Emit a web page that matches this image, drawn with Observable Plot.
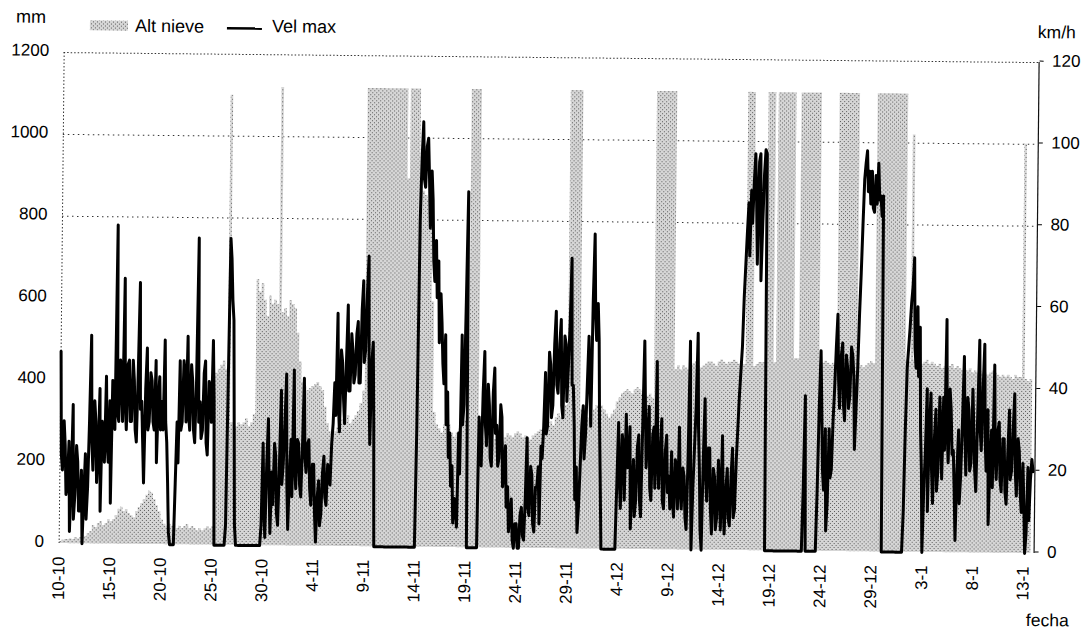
<!DOCTYPE html>
<html>
<head>
<meta charset="utf-8">
<script src="https://cdn.jsdelivr.net/npm/d3@7"></script>
<script src="https://cdn.jsdelivr.net/npm/@observablehq/plot@0.6"></script>
<style>
html,body{margin:0;padding:0;background:#fff;}
#wrap{position:relative;width:1085px;height:629px;overflow:hidden;background:#fff;}
#rot{position:absolute;left:0;top:0;width:1085px;height:629px;transform:rotate(0.588deg);transform-origin:542.5px 314.5px;}
</style>
</head>
<body>
<div id="wrap"><div id="rot"><div id="chart"></div></div></div>
<script>
// ---- Data ----
// Vel max (km/h): 8 readings per day (every 3 h), one row per day from 10-10
const windKmh = [
 47,22,18,30,24,12,15,25,
 3,15,34,6,12,24,20,8,
 8,18,0,12,22,6,14,30,
 51,25,18,35,30,15,22,38,
 8,30,28,20,41,25,20,35,
 10,40,35,28,78,32,30,45,
 42,30,65,35,28,44,45,30,
 30,45,40,28,25,42,64,33,
 35,25,15,38,48,28,30,42,
 40,30,28,45,20,35,41,28,
 35,28,50,30,25,15,3,0,
 0,0,0,15,30,20,45,28,
 30,45,42,30,51,32,28,44,
 40,28,25,40,75,30,35,26,
 28,42,45,25,22,40,38,30,
 50,35,0,0,0,0,0,0,
 0,0,0,5,40,75,70,60,
 55,30,5,0,0,0,0,0,
 0,0,0,0,0,0,0,0,
 0,0,0,0,0,0,0,5,
 25,10,2,20,31,15,3,18,
 10,25,22,8,5,20,38,15,
 20,30,42,15,4,18,26,12,
 43,20,14,26,25,15,12,24,
 41,22,18,25,26,14,10,20,
 20,8,1,12,16,5,8,18,
 22,12,10,20,18,15,25,30,
 40,32,57,35,28,48,45,36,
 30,45,59,38,38,52,48,40,
 42,52,55,40,40,58,65,45,
 48,62,71,40,25,45,50,30,
 0,0,0,0,0,0,0,0,
 0,0,0,0,0,0,0,0,
 0,0,0,0,0,0,0,0,
 0,0,0,0,0,0,0,0,
 0,30,80,95,104,90,88,98,
 100,90,78,92,85,70,65,75,
 61,70,50,62,55,45,40,52,
 30,38,22,28,15,20,6,12,
 10,5,28,18,52,30,35,60,
 87,0,0,0,0,0,0,0,
 0,0,32,25,20,38,48,30,
 25,40,35,22,20,38,44,28,
 30,20,22,35,32,15,18,25,
 10,15,4,8,12,2,0,6,
 6,0,0,8,10,3,2,12,
 27,10,8,20,18,6,4,15,
 15,20,6,25,22,30,43,28,
 30,48,45,32,35,50,58,40,
 38,50,56,35,32,52,50,36,
 45,55,71,40,40,30,12,20,
 4,10,20,30,35,22,28,40,
 52,40,30,60,77,58,51,60,
 51,30,16,0,0,0,0,0,
 0,0,0,0,0,0,0,15,
 31,18,10,28,25,12,33,20,
 20,30,5,15,22,8,12,25,
 28,12,8,30,51,35,20,28,
 35,15,12,28,30,15,46,22,
 15,25,32,12,10,24,28,14,
 18,10,24,12,8,22,20,10,
 30,15,10,20,18,8,5,22,
 51,20,0,15,25,35,53,30,
 20,5,0,22,37,18,12,25,
 25,10,4,20,18,5,8,22,
 15,5,28,12,4,15,20,8,
 6,18,25,8,10,22,30,38,
 44,50,62,70,78,85,72,88,
 80,90,97,85,70,95,97,66,
 80,92,98,97,0,0,0,0,
 0,0,0,0,0,0,0,0,
 0,0,0,0,0,0,0,0,
 0,0,0,0,0,0,0,0,
 0,0,15,38,0,0,0,0,
 0,0,0,0,0,15,35,49,
 35,20,15,30,5,12,30,18,
 20,32,40,50,58,42,35,48,
 51,36,32,48,45,35,38,50,
 48,43,25,35,45,58,68,80,
 91,95,98,88,93,85,93,84,
 83,92,85,95,86,87,82,87,
 0,0,0,0,0,0,0,0,
 0,0,0,0,0,0,0,0,
 0,10,30,45,50,55,61,65,
 72,50,45,60,43,55,30,20,
 0,15,25,40,10,30,39,20,
 12,28,35,15,20,38,30,18,
 38,25,57,30,22,40,35,24,
 25,15,3,20,30,12,19,32,
 48,30,19,38,35,20,22,40,
 30,20,15,35,52,30,25,40,
 51,28,20,35,7,22,30,16,
 46,25,18,30,32,18,15,28,
 28,15,12,25,35,18,20,30,
 39,20,14,28,25,15,10,22,
 12,0,5,21,8,18,23,20
];
// Alt nieve (mm): 4 readings per day (every 6 h), from 10-10
const snowMm = [
 5,8,10,10,  12,10,15,12,  15,20,18,25,  30,45,40,50,  55,45,50,60,
 55,60,70,85,  90,80,85,75,  70,65,80,90,  100,110,120,130,  125,110,95,80,
 60,50,45,50,  45,50,40,45,  40,45,50,40,  45,40,35,40,  35,40,45,40,
 45,420,430,440,  450,430,1100,300,  300,290,300,295,  300,310,290,300,  320,650,620,640,
 600,560,610,590,  600,590,1120,570,  580,560,600,590,  580,520,450,400,  390,380,385,390,
 395,400,390,380,  340,300,280,285,  280,290,300,310,  310,320,300,310,  320,330,350,380,
 1120,1120,1120,1120,  1120,1120,1120,1120,  1120,1120,1120,1120,  1120,1120,1120,1120,  900,1120,1120,1120,
 1120,880,870,860,  850,800,600,330,  300,290,280,300,  290,300,280,270,  280,290,300,310,
 300,1120,1120,1120,  1120,280,270,260,  270,260,255,265,  260,250,260,270,  280,275,270,280,
 285,280,270,275,  270,265,275,280,  285,290,280,290,  300,310,300,320,  330,320,340,350,
 1120,1120,1120,1120,  1120,340,330,320,  320,330,340,350,  360,350,340,330,  320,330,340,360,
 370,380,385,390,  385,380,390,395,  390,380,370,375,  380,370,1120,1120,  1120,1120,1120,1120,
 1120,1120,440,450,  440,450,445,440,  450,455,460,450,  445,450,455,460,  460,455,450,460,
 465,460,455,460,  460,465,460,455,  460,455,1120,1120,  1120,450,455,460,  460,460,1120,1120,
 1120,460,1120,1120,  1120,1120,1120,1120,  1120,470,470,1120,  1120,1120,1120,1120,  1120,1120,1120,460,
 460,465,460,455,  460,455,1120,1120,  1120,1120,1120,1120,  1120,1120,460,455,  450,455,460,465,
 460,1120,1120,1120,  1120,1120,1120,1120,  1120,1120,1120,1120,  1120,470,465,1020,  470,465,470,460,
 465,470,460,465,  460,455,460,450,  455,450,455,460,  450,455,450,445,  450,445,450,440,
 445,440,445,440,  440,435,440,445,  440,435,430,435,  430,435,430,425,  435,430,430,1000,
 425,420,425,420
];
const leftTicks = [0, 200, 400, 600, 800, 1000, 1200];
const rightTickLabels = ["0", "20", "40", "60", "80", "100", "120"];
const tickDayOffsets = [0, 5, 10, 15, 20, 25, 30, 35, 40, 45, 50, 55, 60, 65, 70, 75, 80, 85, 90, 95];
const gridValues = [800, 1000];

// ---- Build ----
const DAY = 864e5;
const t0 = Date.UTC(2004, 9, 10);
const windData = windKmh.map((w, i) => ({t: new Date(t0 + i * DAY / 8), v: w * 10}));
const snowData = snowMm.map((s, i) => ({t: new Date(t0 + i * DAY / 4), v: s}));
const tickDates = tickDayOffsets.map(d => new Date(t0 + d * DAY));
const xStart = new Date(t0);
const xEnd = new Date(t0 + 96.06 * DAY);
const fmt = d3.utcFormat("%-d-%-m");
const FONT = "'Liberation Sans', Arial, Helvetica, sans-serif";
const STIP = "url(#stip)";

const chart = Plot.plot({
  width: 1085, height: 629,
  marginLeft: 61, marginRight: 49, marginTop: 57, marginBottom: 81,
  style: {fontFamily: FONT, fontSize: "17px", color: "#000", background: "#fff", overflow: "visible"},
  x: {type: "utc", domain: [xStart, xEnd]},
  y: {domain: [0, 1200]},
  marks: [
    Plot.ruleY(gridValues, {stroke: "#333", strokeDasharray: "1.5,3.5"}),
    Plot.areaY(snowData, {x: "t", y: "v", fill: STIP, curve: "step-after"}),
    Plot.ruleY([1200], {stroke: "#333", strokeDasharray: "1.5,2"}),
    Plot.ruleX([xStart], {stroke: "#333", strokeDasharray: "1.5,2"}),
    Plot.ruleX([xEnd], {stroke: "#111", strokeWidth: 1.2}),
    Plot.lineY(windData, {x: "t", y: "v", stroke: "#000", strokeWidth: 3, strokeLinejoin: "round"}),
    Plot.axisY(leftTicks, {anchor: "left", tickSize: 0, tickPadding: 15, label: null, dy: -2, tickFormat: d => String(d)}),
    Plot.axisY(leftTicks, {anchor: "right", tickSize: 4, tickPadding: 9, label: null, dy: -1.5,
      tickFormat: d => rightTickLabels[leftTicks.indexOf(d)]}),
    Plot.axisX(tickDates, {anchor: "bottom", tickSize: 0, tickPadding: 13, tickRotate: -90, tickFormat: fmt, label: null})
  ]
});
document.getElementById("chart").appendChild(chart);

// ---- stipple pattern, legend and axis titles ----
const svg = d3.select(chart);
const pat = svg.insert("defs", ":first-child").append("pattern")
  .attr("id", "stip").attr("width", 4).attr("height", 4).attr("patternUnits", "userSpaceOnUse");
pat.append("rect").attr("width", 4).attr("height", 4).attr("fill", "#d6d6d6");
pat.append("rect").attr("x", 0).attr("y", 0).attr("width", 1).attr("height", 1).attr("fill", "#5a5a5a");
pat.append("rect").attr("x", 2).attr("y", 2).attr("width", 1).attr("height", 1).attr("fill", "#5a5a5a");

const g = svg.append("g").attr("font-family", FONT).attr("font-size", 18).attr("fill", "#000").attr("text-anchor", "start");
g.append("text").attr("x", 13).attr("y", 28).text("mm");
g.append("rect").attr("x", 87).attr("y", 25).attr("width", 38).attr("height", 10).attr("fill", STIP);
g.append("text").attr("x", 132).attr("y", 36).text("Alt nieve");
g.append("line").attr("x1", 224).attr("x2", 259).attr("y1", 31.5).attr("y2", 31.5).attr("stroke", "#000").attr("stroke-width", 2.6);
g.append("text").attr("x", 269).attr("y", 35).text("Vel max");
g.append("text").attr("x", 1035).attr("y", 33).attr("font-size", 17.5).text("km/h");
g.append("text").attr("x", 1029).attr("y", 621).attr("font-size", 17.5).text("fecha");
</script>
</body>
</html>
